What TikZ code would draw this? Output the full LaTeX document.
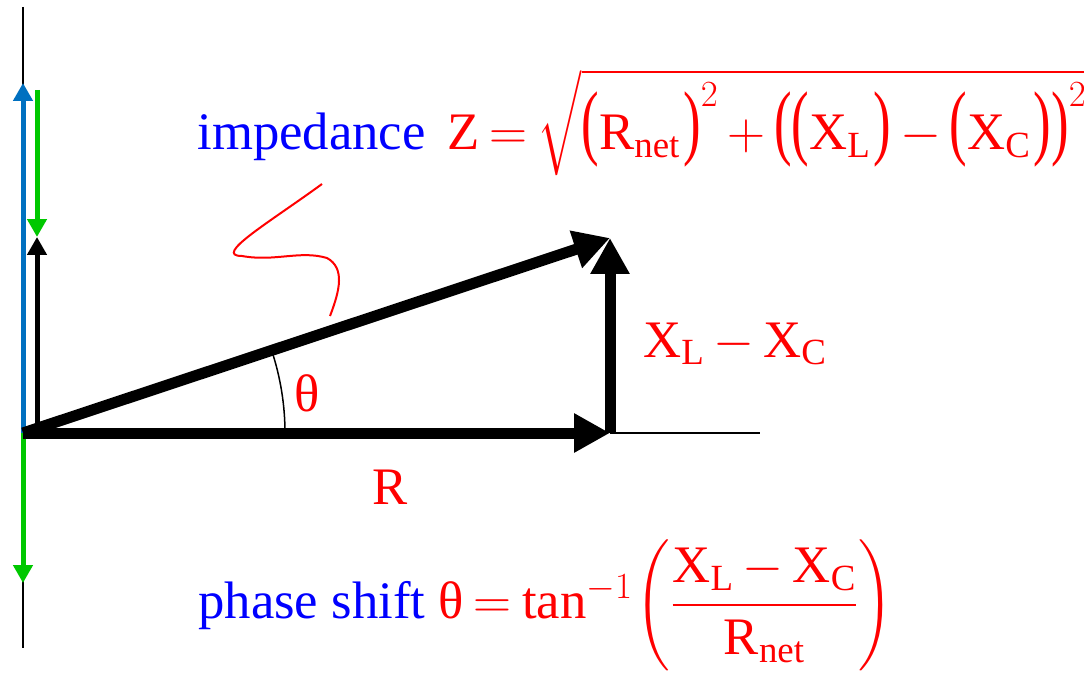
\documentclass[tikz,border=0pt]{standalone}
\usepackage{fix-cm}
\usepackage{amsmath}
\usepackage{graphicx}
\usepackage{fontspec}
\setmainfont{Liberation Serif}
\usetikzlibrary{arrows.meta}
\definecolor{axblue}{HTML}{0070C0}
\definecolor{axgreen}{HTML}{00C800}
\newcommand{\tightmath}{\thinmuskip=1mu\relax\medmuskip=3mu\relax\thickmuskip=3.5mu\relax}
\newcommand{\lpar}{\mathopen{\scalebox{1}[1.58]{(}}}
\newcommand{\rpar}{\mathclose{\scalebox{1}[1.58]{)}}}

\tikzset{
  vec/.style={line width=0.22cm, -{Triangle[length=0.72cm,width=0.74cm]}},
  axvec/.style={line width=0.1cm, -{Triangle[length=0.36cm,width=0.38cm]}},
  lbl/.style={text=red, inner sep=0pt, font=\fontsize{30}{36}\selectfont\tightmath}
}

\begin{document}
\begin{tikzpicture}[x=0.02cm, y=-0.02cm]
\useasboundingbox (0,0) rectangle (1084,675);
\coordinate (top) at (23,7);
\coordinate (bot) at (23,648);
\coordinate (O) at (23,433);
\coordinate (O2) at (37,433);
\coordinate (bluetip) at (23,83);
\coordinate (greenstart) at (37,90);
\coordinate (mid) at (37,237);
\coordinate (greentip) at (23,583);
\coordinate (R) at (610,433);
\coordinate (Z) at (610,238);
\coordinate (far) at (760,433);
\coordinate (s1) at (322,184);
\coordinate (s2) at (242,256);
\coordinate (s3) at (327,258);
\coordinate (s4) at (330,316);

\draw[line width=0.05cm] (top) -- (bot);
\draw[axvec, axblue] (O) -- (bluetip);
\draw[axvec, axgreen] (greenstart) -- (mid);
\draw[axvec, black] (O2) -- (mid);
\draw[axvec, axgreen] (O) -- (greentip);

\draw[line width=0.04cm] (R) -- (far);
\draw[vec] (O) -- (R);
\draw[vec] (R) -- (Z);
\draw[vec] (O) -- (Z);
\draw[line width=0.03cm] (285,433) arc[start angle=0, end angle=-18.4, radius=262];

\draw[red, line width=0.04cm] (s1) .. controls (270,222) and (212,256) .. (s2)
  .. controls (275,262) and (300,250) .. (s3) .. controls (345,268) and (340,290) .. (s4);

\node[lbl] (theta) at (307,393) {θ};
\node[lbl] (rlabel) at (390,487) {R};
\node[lbl, anchor=base west] (xlabel) at (643,357) {$\mathrm{X}_{\mathrm{L}}-\mathrm{X}_{\mathrm{C}}$};
\node[lbl, text=blue, anchor=base west] (imp) at (197,150) {impedance};
\node[lbl, anchor=base west] (zformula) at (447,150)
  {$\mathrm{Z}=\sqrt{\lpar\mathrm{R}_{\mathrm{net}}\,\rpar^{2}+\lpar\lpar\mathrm{X}_{\mathrm{L}}\,\rpar-\lpar\mathrm{X}_{\mathrm{C}}\,\rpar\rpar^{2}}$};
\node[lbl, text=blue, anchor=base west] (phase) at (198,618)
  {phase shift \textcolor{red}{$\mbox{θ}=\mathrm{tan}^{-1}\left(\dfrac{\mathrm{X}_{\mathrm{L}}-\mathrm{X}_{\mathrm{C}}}{\mathrm{R}_{\mathrm{net}}}\right)$}};
\end{tikzpicture}
\end{document}
